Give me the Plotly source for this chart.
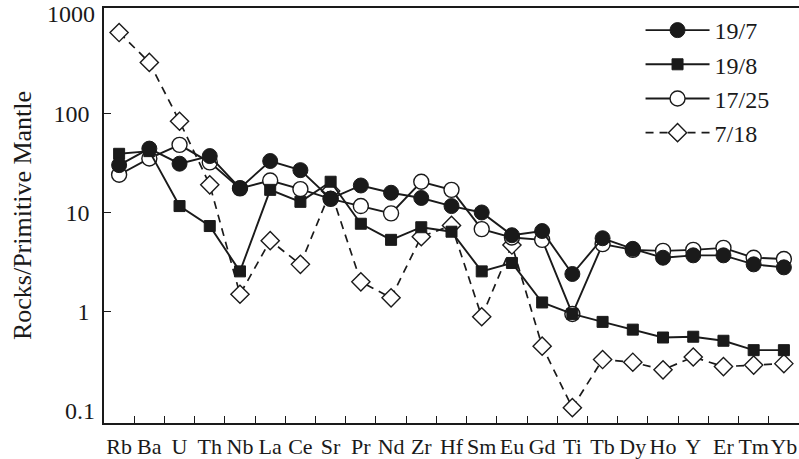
import plotly.graph_objects as go

elements = ["Rb", "Ba", "U", "Th", "Nb", "La", "Ce", "Sr", "Pr", "Nd", "Zr", "Hf",
            "Sm", "Eu", "Gd", "Ti", "Tb", "Dy", "Ho", "Y", "Er", "Tm", "Yb"]

s19_7 = [30, 44, 31, 37, 17.6, 33, 26.7, 13.8, 18.7, 15.8, 14, 11.6,
         10, 5.9, 6.5, 2.4, 5.5, 4.3, 3.5, 3.7, 3.7, 3.0, 2.8]
s19_8 = [39, 41.5, 11.6, 7.3, 2.55, 16.9, 12.8, 20.4, 7.7, 5.3, 7.1, 6.4,
         2.55, 3.1, 1.24, 0.95, 0.79, 0.66, 0.55, 0.56, 0.51, 0.41, 0.41]
s17_25 = [24, 35, 48, 32, 17.5, 21, 17.2, 13.7, 11.6, 9.8, 20.4, 16.9,
          6.8, 5.6, 5.3, 0.95, 4.8, 4.2, 4.1, 4.2, 4.4, 3.5, 3.4]
s7_18 = [650, 325, 83, 19, 1.5, 5.2, 3.0, 16.5, 2.0, 1.38, 5.7, 7.4,
         0.89, 4.7, 0.45, 0.108, 0.33, 0.31, 0.26, 0.35, 0.28, 0.29, 0.30]

series_names = ["19/7", "19/8", "17/25", "7/18"]

major_ticks = [1, 10, 100]
end_ticks = [0.1, 1000]

FONT = "Liberation Serif, Times New Roman, serif"
INK = "#1a1a1a"
YRANGE = [-1.121, 3.06]

fig = go.Figure()

# draw order: 7/18, 17/25, 19/8, 19/7 (filled symbols on top)
fig.add_trace(go.Scatter(
    x=elements, y=s7_18, name=series_names[3], mode="lines+markers", legendrank=4,
    line=dict(color=INK, width=1.7, dash="8px,6px"),
    marker=dict(symbol="diamond", size=14, color="white", line=dict(color=INK, width=1.4))))
fig.add_trace(go.Scatter(
    x=elements, y=s17_25, name=series_names[2], mode="lines+markers", legendrank=3,
    line=dict(color=INK, width=1.9),
    marker=dict(symbol="circle", size=15, color="white", line=dict(color=INK, width=1.4))))
fig.add_trace(go.Scatter(
    x=elements, y=s19_8, name=series_names[1], mode="lines+markers", legendrank=2,
    line=dict(color=INK, width=1.9),
    marker=dict(symbol="square", size=11, color=INK, line=dict(color=INK, width=1))))
fig.add_trace(go.Scatter(
    x=elements, y=s19_7, name=series_names[0], mode="lines+markers", legendrank=1,
    line=dict(color=INK, width=1.9),
    marker=dict(symbol="circle", size=15, color=INK, line=dict(color=INK, width=1))))
# empty helper trace so the overlaid label-only axis is drawn
fig.add_trace(go.Scatter(x=[], y=[], yaxis="y2", showlegend=False, hoverinfo="skip"))

fig.update_layout(
    width=799, height=459,
    margin=dict(l=104, r=0, t=8, b=36),
    paper_bgcolor="white", plot_bgcolor="white",
    font=dict(family=FONT, size=23, color=INK),
    showlegend=True,
    legend=dict(x=0.772, y=1.0, xanchor="left", yanchor="top",
                bgcolor="rgba(0,0,0,0)", font=dict(size=24, family=FONT),
                itemwidth=64),
    xaxis=dict(type="category", range=[-0.5, 22.5], showgrid=False,
               showline=True, linecolor=INK, linewidth=1.5, mirror=True,
               ticks="inside", ticklen=7, tickwidth=1.2, tickcolor=INK,
               tickson="boundaries", ticklabelstandoff=3, tickangle=0,
               automargin=False,
               tickfont=dict(size=22, family=FONT)),
    yaxis=dict(type="log", range=YRANGE, showgrid=False, zeroline=False,
               showline=True, linecolor=INK, linewidth=1.5,
               ticks="inside", ticklen=7, tickwidth=1.2, tickcolor=INK,
               tickvals=major_ticks, ticktext=[str(v) for v in major_ticks],
               ticklabelstandoff=8, automargin=False, ticklabeloverflow="allow",
               tickfont=dict(size=24, family=FONT),
               title=dict(text="Rocks/Primitive Mantle", font=dict(size=26, family=FONT),
                          standoff=14)),
    yaxis2=dict(type="log", range=YRANGE, overlaying="y", side="left", anchor="x",
                showgrid=False, zeroline=False, showline=False, ticks="",
                tickvals=end_ticks, ticktext=["0.1", "1000"],
                ticklabelstandoff=8, automargin=False, ticklabeloverflow="allow",
                tickfont=dict(size=24, family=FONT, color=INK)),
)

fig.write_html("out.html")
